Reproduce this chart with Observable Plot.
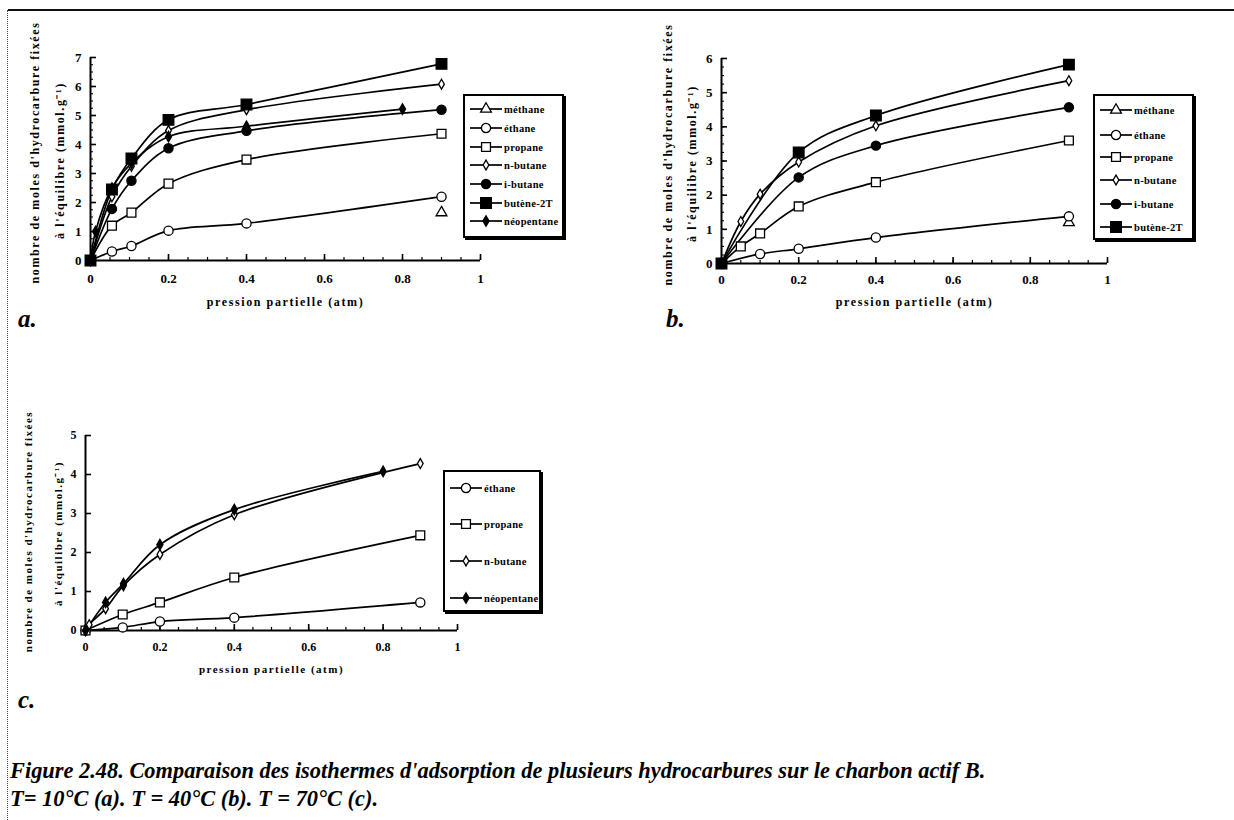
<!DOCTYPE html>
<html><head><meta charset="utf-8">
<script src="https://cdn.jsdelivr.net/npm/d3@7"></script>
<script src="https://cdn.jsdelivr.net/npm/@observablehq/plot@0.6"></script>
<style>
html,body{margin:0;padding:0;background:#fff;}
body{width:1234px;height:820px;position:relative;overflow:hidden;font-family:"Liberation Serif","Times New Roman",serif;color:#000;}
.abs{position:absolute;}
.legend{position:absolute;border:2px solid #000;box-shadow:2px 2px 0 #000;background:#fff;}
.legend .row{position:absolute;left:0;height:16px;display:flex;align-items:center;}
.legend .row span{font-weight:bold;letter-spacing:0.3px;margin-left:2px;white-space:nowrap;}
.plabel{position:absolute;font-weight:bold;font-style:italic;font-size:25px;}
.caption{position:absolute;left:10px;top:757px;font-weight:bold;font-style:italic;font-size:22.4px;line-height:28px;white-space:nowrap;}
</style></head><body>
<div class="abs" style="left:8px;top:9px;width:1226px;height:2px;background:#111"></div>
<div class="abs" style="left:7px;top:10px;height:810px;border-left:1.5px dotted #444"></div>
<div id="pa" class="abs" style="left:0;top:0"></div>
<div id="pb" class="abs" style="left:640px;top:0"></div>
<div id="pc" class="abs" style="left:0;top:400px"></div>
<div class="plabel" style="left:18px;top:305px">a.</div>
<div class="plabel" style="left:666px;top:305px">b.</div>
<div class="plabel" style="left:18px;top:686px">c.</div>
<div class="caption">Figure 2.48. Comparaison des isothermes d'adsorption de plusieurs hydrocarbures sur le charbon actif B.<br>T= 10°C (a). T = 40°C (b). T = 70°C (c).</div>
<script>
// ---------- data ----------
const SERIES = ["méthane", "éthane", "propane", "n-butane", "i-butane", "butène-2T", "néopentane"];

// panel a : T = 10°C
const a_methane_x = [0.9];
const a_methane_y = [1.65];
const a_x = [0, 0.055, 0.105, 0.2, 0.4, 0.9];
const a_ethane_y = [0, 0.31, 0.5, 1.03, 1.28, 2.2];
const a_propane_y = [0, 1.2, 1.65, 2.65, 3.48, 4.37];
const a_nbutane_y = [0, 2.2, 3.25, 4.48, 5.2, 6.08];
const a_ibutane_y = [0, 1.78, 2.75, 3.87, 4.47, 5.2];
const a_butene_y = [0, 2.45, 3.52, 4.85, 5.38, 6.78];
const a_neo_x = [0, 0.013, 0.055, 0.105, 0.2, 0.4, 0.8];
const a_neo_y = [0, 1.0, 2.5, 3.35, 4.27, 4.63, 5.22];

// panel b : T = 40°C
const b_methane_x = [0.9];
const b_methane_y = [1.2];
const b_ethane_x = [0, 0.1, 0.2, 0.4, 0.9];
const b_ethane_y = [0, 0.28, 0.43, 0.76, 1.38];
const b_x = [0, 0.05, 0.1, 0.2, 0.4, 0.9];
const b_propane_y = [0, 0.5, 0.88, 1.67, 2.38, 3.6];
const b_nbutane_y = [0, 1.23, 2.03, 2.97, 4.03, 5.35];
const b_ib_x = [0, 0.2, 0.4, 0.9];
const b_ibutane_y = [0, 2.52, 3.45, 4.57];
const b_butene_y = [0, 3.25, 4.33, 5.82];

// panel c : T = 70°C
const c_x = [0, 0.1, 0.2, 0.4, 0.9];
const c_ethane_y = [0, 0.08, 0.23, 0.33, 0.72];
const c_propane_y = [0, 0.41, 0.72, 1.36, 2.44];
const c_nbutane_x = [0, 0.01, 0.054, 0.102, 0.2, 0.4, 0.9];
const c_nbutane_y = [0, 0.15, 0.56, 1.15, 1.95, 2.97, 4.28];
const c_neo_x = [0, 0.054, 0.102, 0.2, 0.4, 0.8];
const c_neo_y = [0, 0.72, 1.2, 2.2, 3.1, 4.08];

// tick labels
const X_TICKS = [0, 0.2, 0.4, 0.6, 0.8, 1];
const X_TICK_LABELS = ["0", "0.2", "0.4", "0.6", "0.8", "1"];
const A_Y_TICKS = [0, 1, 2, 3, 4, 5, 6, 7];
const B_Y_TICKS = [0, 1, 2, 3, 4, 5, 6];
const C_Y_TICKS = [0, 1, 2, 3, 4, 5];
const X_MINOR = d3.range(0, 1.0001, 0.05);

const X_TITLE = "pression partielle (atm)";
const Y_TITLE_1 = "nombre de moles d'hydrocarbure fixées";
const Y_TITLE_2 = "à l'équilibre (mmol.g⁻¹)";

// ---------- styles (per series) ----------
const STYLE = {
  "méthane":    {symbol: "triangle", fill: "white", r: 4},
  "éthane":     {symbol: "circle",   fill: "white", r: 4.6},
  "propane":    {symbol: "square",   fill: "white", r: 5},
  "n-butane":   {symbol: "diamond",  fill: "white", r: 3},
  "i-butane":   {symbol: "circle",   fill: "black", r: 4.6},
  "butène-2T":  {symbol: "square",   fill: "black", r: 6},
  "néopentane": {symbol: "diamond",  fill: "black", r: 3.2}
};

function rows(name, xs, ys) { return xs.map((x, i) => ({series: name, x, y: ys[i]})); }

const dataA = [
  ...rows("méthane", a_methane_x, a_methane_y),
  ...rows("éthane", a_x, a_ethane_y),
  ...rows("propane", a_x, a_propane_y),
  ...rows("n-butane", a_x, a_nbutane_y),
  ...rows("i-butane", a_x, a_ibutane_y),
  ...rows("butène-2T", a_x, a_butene_y),
  ...rows("néopentane", a_neo_x, a_neo_y)
];
const dataB = [
  ...rows("méthane", b_methane_x, b_methane_y),
  ...rows("éthane", b_ethane_x, b_ethane_y),
  ...rows("propane", b_x, b_propane_y),
  ...rows("n-butane", b_x, b_nbutane_y),
  ...rows("i-butane", b_ib_x, b_ibutane_y),
  ...rows("butène-2T", b_ib_x, b_butene_y)
];
const dataC = [
  ...rows("éthane", c_x, c_ethane_y),
  ...rows("propane", c_x, c_propane_y),
  ...rows("n-butane", c_nbutane_x, c_nbutane_y),
  ...rows("néopentane", c_neo_x, c_neo_y)
];

function panel(cfg) {
  const {data, yTicks, yMinor, width, height, ml, mr, mt, mb, titleSize, tickSize,
         t1dx, t1dy, t2dx, t2dy, xtdy, xTickDy} = cfg;
  const ymax = yTicks[yTicks.length - 1];
  const names = SERIES.filter(s => data.some(d => d.series === s));
  const marks = [
    Plot.ruleY([0], {strokeWidth: 2}),
    Plot.ruleX([0], {strokeWidth: 2}),
    Plot.ruleX(X_TICKS, {x: d => d, y1: 0, y2: 0, insetTop: -6, strokeWidth: 1.6}),
    Plot.ruleX(X_MINOR, {x: d => d, y1: 0, y2: 0, insetTop: -3, strokeWidth: 1.2}),
    Plot.ruleY(yTicks, {y: d => d, x1: 0, x2: 0, insetRight: -6, strokeWidth: 1.6}),
    Plot.ruleY(yMinor, {y: d => d, x1: 0, x2: 0, insetRight: -3, strokeWidth: 1.1}),
    Plot.text(X_TICKS, {x: d => d, frameAnchor: "bottom", dy: xTickDy, text: (d, i) => X_TICK_LABELS[i], fontSize: tickSize, fontWeight: "bold"}),
    Plot.text(yTicks, {y: d => d, frameAnchor: "left", dx: -9, textAnchor: "end", text: d => String(d), fontSize: tickSize, fontWeight: "bold"}),
    Plot.text([X_TITLE], {frameAnchor: "bottom", textAnchor: "middle", dy: xtdy, text: d => d, fontSize: titleSize, fontWeight: "bold"}),
    Plot.text([Y_TITLE_1], {frameAnchor: "left", textAnchor: "middle", rotate: -90, dx: t1dx, dy: t1dy, text: d => d, fontSize: titleSize, fontWeight: "bold"}),
    Plot.text([Y_TITLE_2], {frameAnchor: "left", textAnchor: "middle", rotate: -90, dx: t2dx, dy: t2dy, text: d => d, fontSize: titleSize, fontWeight: "bold"}),
    Plot.line(data.filter(d => d.series !== "méthane"), {x: "x", y: "y", z: "series", curve: "catmull-rom", stroke: "black", strokeWidth: 1.7})
  ];
  for (const n of names) {
    const s = STYLE[n];
    marks.push(Plot.dot(data.filter(d => d.series === n), {x: "x", y: "y", symbol: s.symbol, r: s.r, fill: s.fill, stroke: "black", strokeWidth: 1.3}));
  }
  const svg = Plot.plot({
    width, height, marginLeft: ml, marginRight: mr, marginTop: mt, marginBottom: mb,
    x: {domain: [0, 1], axis: null},
    y: {domain: [0, ymax], axis: null},
    style: {fontFamily: "'Liberation Serif','Times New Roman',serif", background: "transparent", overflow: "visible", color: "black"},
    marks
  });
  d3.select(svg).selectAll("text").filter(function() { return this.textContent.length > 5; })
    .style("letter-spacing", cfg.ls + "px");
  return svg;
}

function legend(names, {left, top, width, height, rowsY, textSize}) {
  const box = document.createElement("div");
  box.className = "legend";
  Object.assign(box.style, {left: left + "px", top: top + "px", width: width + "px", height: height + "px"});
  names.forEach((n, i) => {
    const s = STYLE[n];
    const row = document.createElement("div");
    row.className = "row";
    row.style.top = (rowsY[i] - 8) + "px";
    row.style.left = "5px";
    const size = Math.PI * s.r * s.r;
    const sym = {circle: d3.symbolCircle, square: d3.symbolSquare, diamond: d3.symbolDiamond, triangle: d3.symbolTriangle}[s.symbol];
    const path = d3.symbol(sym, size)();
    row.innerHTML = `<svg width="32" height="16" style="overflow:visible"><line x1="0" x2="32" y1="8" y2="8" stroke="black" stroke-width="1.7"/><path d="${path}" transform="translate(16,8)" fill="${s.fill}" stroke="black" stroke-width="1.3"/></svg><span style="font-size:${textSize}px">${n}</span>`;
    box.appendChild(row);
  });
  document.body.appendChild(box);
}

document.getElementById("pa").appendChild(panel({
  data: dataA, yTicks: A_Y_TICKS, yMinor: d3.range(0, 7.001, 0.25),
  width: 560, height: 330, ml: 90, mr: 80, mt: 57, mb: 70,
  titleSize: 12, tickSize: 13, ls: 1.6,
  t1dx: -55, t1dy: -6.5, t2dx: -30, t2dy: 1.5, xtdy: 45, xTickDy: 22
}));
document.getElementById("pb").appendChild(panel({
  data: dataB, yTicks: B_Y_TICKS, yMinor: d3.range(0, 6.001, 0.25),
  width: 560, height: 330, ml: 81, mr: 93, mt: 58, mb: 67,
  titleSize: 12, tickSize: 13, ls: 1.6,
  t1dx: -53, t1dy: -6.5, t2dx: -29, t2dy: 2.5, xtdy: 42, xTickDy: 20
}));
document.getElementById("pc").appendChild(panel({
  data: dataC, yTicks: C_Y_TICKS, yMinor: [],
  width: 520, height: 300, ml: 85, mr: 63, mt: 35, mb: 70,
  titleSize: 11, tickSize: 12, ls: 1.5,
  t1dx: -57, t1dy: -1.5, t2dx: -27, t2dy: 0.5, xtdy: 42, xTickDy: 20
}));

legend(["méthane", "éthane", "propane", "n-butane", "i-butane", "butène-2T", "néopentane"],
  {left: 463, top: 94, width: 97, height: 140, rowsY: [13, 32, 51, 69, 88, 107, 125], textSize: 10.5});
legend(["méthane", "éthane", "propane", "n-butane", "i-butane", "butène-2T"],
  {left: 1093, top: 94, width: 97, height: 142, rowsY: [14, 39, 61, 84, 108, 131], textSize: 10.5});
legend(["éthane", "propane", "n-butane", "néopentane"],
  {left: 443, top: 470, width: 94, height: 138, rowsY: [16, 52, 89, 126], textSize: 10.5});
</script>
</body></html>
